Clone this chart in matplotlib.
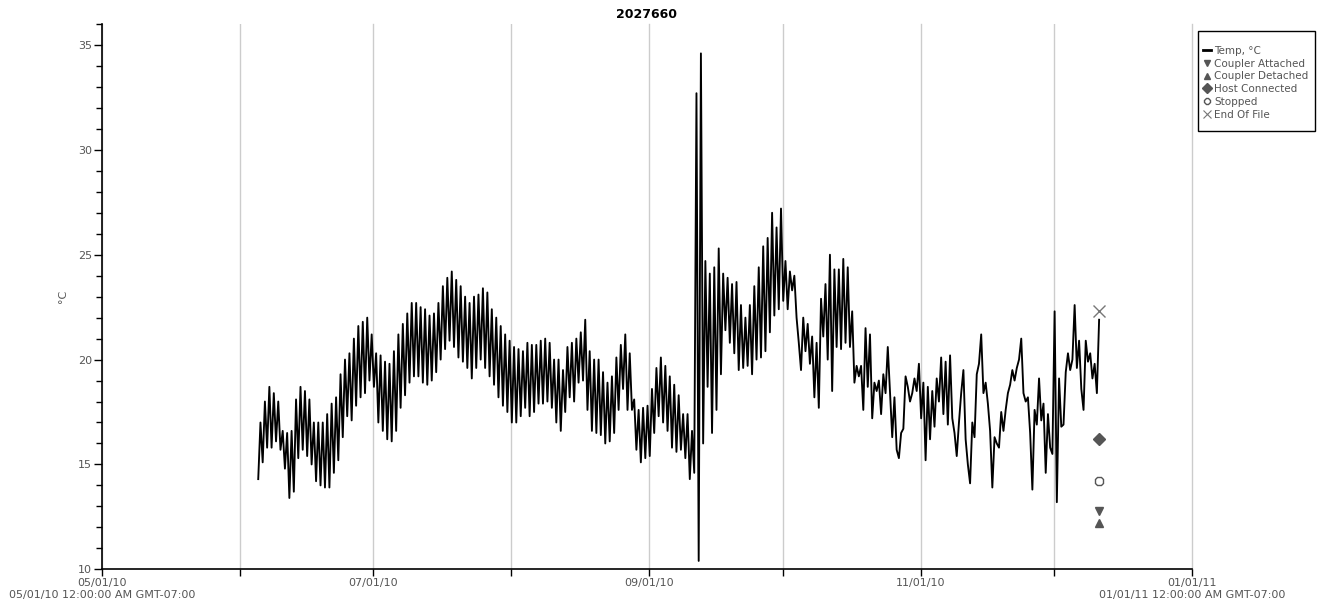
"""
HOBO logger 2027660 temperature export, redrawn with matplotlib.
"""

import numpy as np
import pandas as pd
import matplotlib
matplotlib.use('Agg')
import matplotlib.pyplot as plt
import matplotlib.dates as mdates
from matplotlib.lines import Line2D
from matplotlib.patches import Rectangle

# Readings every 12 h starting 2010-06-05 03:00, split into the 03:00 and 15:00 samples
temp_03h = [
    14.3, 15.1, 15.8, 15.8, 16.1, 15.7, 14.8, 13.4, 13.7, 15.3, 15.7, 15.4, 15.0, 14.2, 14.0, 13.9, 13.9, 14.6, 15.2,
    16.3, 17.3, 17.1, 17.8, 18.2, 18.4, 19.0, 18.7, 17.0, 16.6, 16.2, 16.1, 16.6, 17.7, 18.3, 18.9, 19.2, 19.2,
    18.9, 18.8, 19.0, 19.4, 20.0, 20.5, 20.9, 20.6, 20.1, 19.9, 19.6, 19.1, 19.6, 20.0, 19.6, 19.2, 18.8, 18.2,
    17.8, 17.5, 17.0, 17.0,
    17.3, 17.7, 17.3, 17.5, 17.9, 17.9, 18.0, 17.7, 17.0, 16.6, 17.5, 18.2, 18.0, 18.9, 19.0, 17.6, 16.6,
    16.5, 16.4, 16.0, 16.1, 16.5, 17.6, 18.6, 17.6, 17.6, 15.7, 15.1, 15.3, 15.4, 16.5, 17.3, 17.0, 16.6, 15.8,
    15.6, 15.7, 15.3, 14.3,
    14.6, 10.4, 16.0, 18.7, 16.5, 17.6, 19.3, 21.4, 20.8, 20.3, 19.5, 19.6, 19.7, 19.3, 20.0, 20.1, 20.4, 21.3,
    22.1, 22.4, 22.8, 22.4, 23.3,
    22.0, 19.5, 20.4, 19.8, 18.2, 17.7, 21.1, 20.0, 18.5, 20.6, 20.5, 20.8, 20.6, 18.9, 19.2, 17.6, 18.7, 17.2,
    18.5, 17.4, 18.4, 18.5, 18.2, 15.3, 16.7, 18.7, 18.4, 18.5, 17.2, 15.2,
    16.2, 16.8, 18.0, 17.4, 16.9, 17.2, 15.4, 18.4, 16.2, 14.1, 16.3, 19.8, 18.4, 17.9, 13.9, 16.0, 17.5, 17.6,
    18.8, 19.0, 20.0, 18.4, 18.2, 13.8, 16.9, 17.1, 14.6, 15.8, 22.3, 19.1, 16.9, 20.3, 20.0, 19.6, 18.6, 20.9,
    20.3, 19.8, 21.9,
]
temp_15h = [
    17.0, 18.0, 18.7, 18.4, 18.0, 16.6, 16.5, 16.6, 18.1, 18.7, 18.5, 18.1, 17.0, 17.0, 17.0, 17.4, 17.9, 18.2, 19.3,
    20.0, 20.3, 21.0, 21.6, 21.8, 22.0, 21.2, 20.3, 20.2, 19.9, 19.8, 20.4, 21.2, 21.7, 22.2, 22.7, 22.7, 22.5,
    22.4, 22.1, 22.2, 22.7, 23.5, 23.9, 24.2, 23.8, 23.5, 23.0, 22.7, 23.0, 23.1, 23.4, 23.2, 22.4, 22.0, 21.6,
    21.2, 20.9, 20.6, 20.5,
    20.4, 20.8, 20.7, 20.7, 20.9, 21.0, 20.8, 20.0, 20.0, 19.5, 20.6, 20.8, 21.0, 21.3, 21.9, 20.4, 20.0,
    20.0, 19.4, 18.9, 19.2, 20.1, 20.7, 21.2, 20.3, 18.1, 17.6, 17.7, 17.8, 18.6, 19.6, 20.1, 19.7, 19.2, 18.8,
    18.3, 17.4, 17.4, 16.6,
    32.7, 34.6, 24.7, 24.1, 24.4, 25.3, 24.1, 23.9, 23.6, 23.7, 22.6, 22.0, 22.6, 23.5, 24.4, 25.4, 25.8, 27.0,
    26.3, 27.2, 24.7, 24.2, 24.0,
    20.8, 22.0, 21.7, 21.1, 20.8, 22.9, 23.6, 25.0, 24.3, 24.3, 24.8, 24.4, 22.3, 19.7, 19.7, 21.5, 21.2, 18.9,
    19.0, 19.3, 20.6, 16.3, 15.7, 16.5, 19.2, 18.0, 19.1, 19.8, 18.9, 18.7,
    18.5, 19.1, 20.1, 19.9, 20.2, 16.5, 17.0, 19.5, 15.0, 17.0, 19.3, 21.2, 18.9, 16.6, 16.3, 15.8, 16.6, 18.4,
    19.5, 19.6, 21.0, 18.0, 16.5, 17.6, 19.1, 17.9, 17.4, 15.5, 13.2, 16.8, 19.4, 19.5, 22.6, 20.9, 17.6, 19.9,
    19.1, 18.4,
]
start_time = '2010-06-05 03:00'

# Logger events, all at the end of the record
event_labels = ['Coupler Attached', 'Coupler Detached', 'Host Connected', 'Stopped', 'End Of File']
event_values = [12.8, 12.2, 16.2, 14.2, 22.3]
event_markers = ['v', '^', 'D', '8', 'x']

GREY = '#555555'
W, H = 1319, 605


def date_label(x, pos):
    d = mdates.num2date(x)
    s = d.strftime('%m/%d/%y')
    if (d.month == 5 and d.year == 2010) or d.year == 2011:
        s += '\n' + d.strftime('%m/%d/%y') + ' 12:00:00 AM GMT-07:00'
    return s


def plot_logger():
    temps = np.empty(len(temp_03h) + len(temp_15h))
    temps[0::2] = temp_03h
    temps[1::2] = temp_15h
    times = pd.date_range(start_time, periods=len(temps), freq='12h')

    fig = plt.figure(figsize=(W / 100, H / 100), dpi=100)
    ax = fig.add_axes([0.0773, 0.059, 0.8264, 0.9013])

    ax.plot(times, temps, color='black', lw=1.35)

    # event markers
    t_end = times[-1]
    for lab, val, mk in zip(event_labels, event_values, event_markers):
        if mk == '8':
            ax.plot(t_end, val, marker=mk, ms=7, mfc='white', mec=GREY, mew=1, ls='')
        elif mk == 'x':
            ax.plot(t_end, val, marker=mk, ms=8, color='#777777', mew=1, ls='')
        else:
            ax.plot(t_end, val, marker=mk, ms=6, color=GREY, ls='')

    ax.set_xlim(pd.Timestamp('2010-05-01'), pd.Timestamp('2011-01-01'))
    ax.set_ylim(10, 36)

    ax.xaxis.set_major_locator(mdates.MonthLocator(bymonth=[1, 3, 5, 7, 9, 11]))
    ax.xaxis.set_minor_locator(mdates.MonthLocator(bymonth=[2, 4, 6, 8, 10, 12]))
    ax.xaxis.set_major_formatter(plt.FuncFormatter(date_label))
    ax.yaxis.set_major_locator(plt.MultipleLocator(5))
    ax.yaxis.set_minor_locator(plt.MultipleLocator(1))

    ax.tick_params(axis='x', which='both', direction='out', length=5, width=1, colors='black',
                   labelcolor=GREY, labelsize=8, pad=1)
    ax.tick_params(axis='y', which='major', direction='out', length=6, width=1, colors='black',
                   labelcolor=GREY, labelsize=8, pad=1)
    ax.tick_params(axis='y', which='minor', direction='out', length=4, width=1, colors='black')
    for lab in ax.get_xticklabels():
        lab.set_linespacing(1.3)
        lab.set_multialignment('center')

    ax.grid(True, axis='x', which='both', color='#cccccc', lw=1)
    ax.set_axisbelow(True)
    # let the gridline at the right edge (01/01/11) show
    for gl in ax.get_xgridlines():
        gl.set_clip_on(False)
    for side in ['top', 'right']:
        ax.spines[side].set_visible(False)
    ax.spines['left'].set_linewidth(1.2)
    ax.spines['bottom'].set_linewidth(1.2)

    ax.set_ylabel('°C', fontsize=8, color=GREY, labelpad=7)
    ax.set_title('2027660', fontsize=9, fontweight='bold', pad=4)

    # legend: box drawn separately so it keeps the reference size
    fig.patches.append(Rectangle((1198 / W, 1 - 131 / H), 117 / W, 100 / H, transform=fig.transFigure,
                                 fill=False, edgecolor='black', lw=1))
    handles = [Line2D([], [], color='black', lw=2, label='Temp, °C')]
    for lab, mk in zip(event_labels, event_markers):
        if mk == '8':
            h = Line2D([], [], marker=mk, ms=5, mfc='white', mec=GREY, ls='', label=lab)
        elif mk == 'x':
            h = Line2D([], [], marker=mk, ms=6, color='#777777', mew=0.8, ls='', label=lab)
        else:
            h = Line2D([], [], marker=mk, ms=5, color=GREY, ls='', label=lab)
        handles.append(h)
    leg = fig.legend(handles=handles, loc='upper left', bbox_to_anchor=(1203 / W, 1 - 46 / H),
                     bbox_transform=fig.transFigure, borderaxespad=0, borderpad=0, fontsize=7.5,
                     frameon=False, labelspacing=0.26, handlelength=0.8, handletextpad=0.25)
    for t in leg.get_texts():
        t.set_color(GREY)

    fig.savefig('out.png', dpi=100)
    return fig


if __name__ == '__main__':
    plot_logger()
